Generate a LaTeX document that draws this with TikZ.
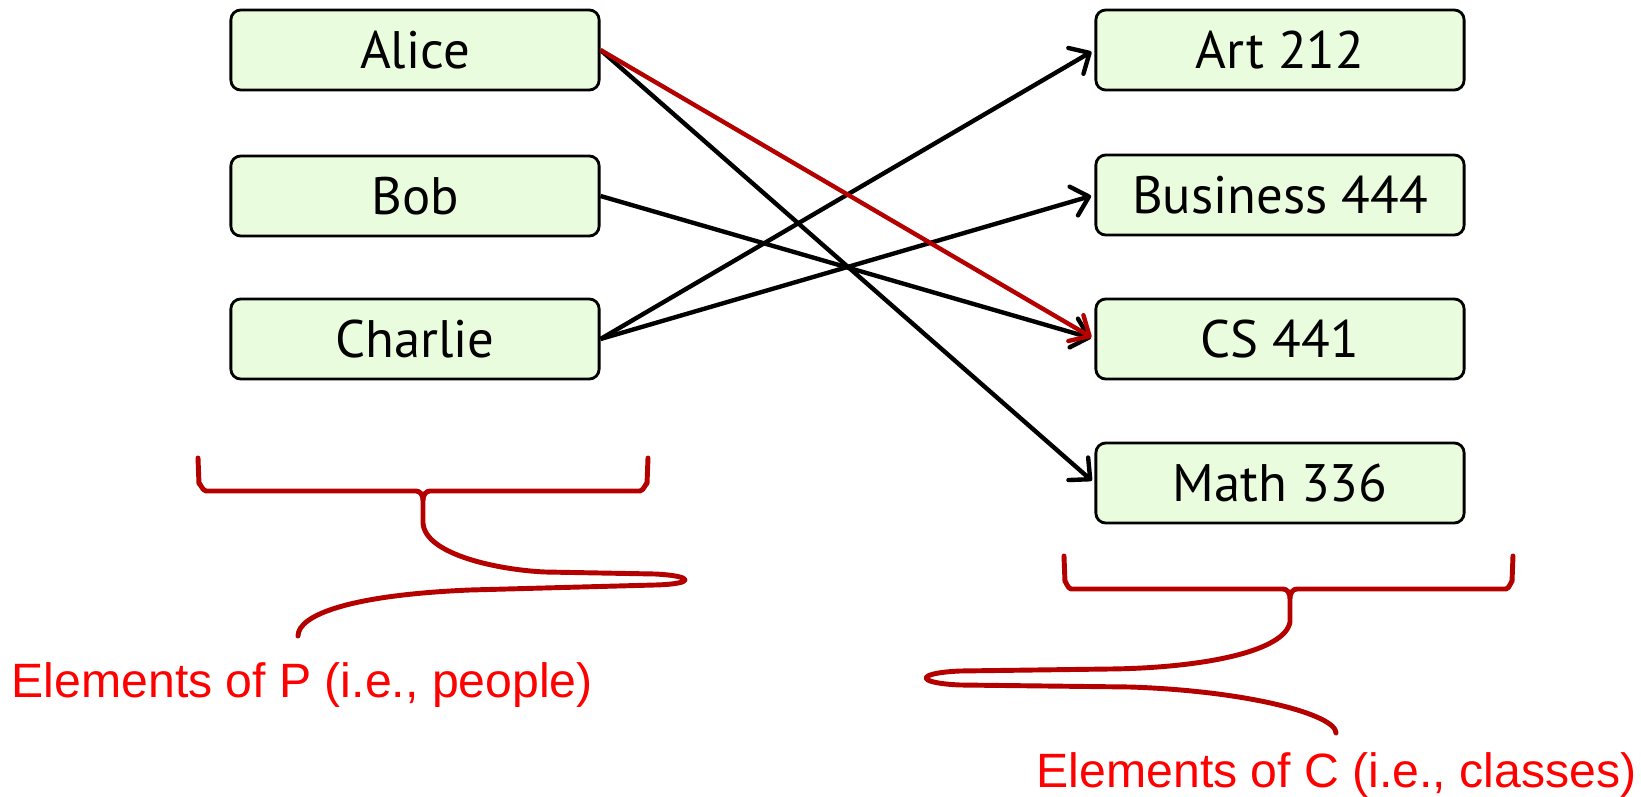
\documentclass[tikz,border=0pt]{standalone}
\usepackage{fontspec}
\setmainfont{PT Sans}
\newfontfamily\notefont{Liberation Sans}
\usetikzlibrary{arrows.meta}
\definecolor{boxgreen}{HTML}{EAFCDE}
\definecolor{bracered}{HTML}{B50000}
\tikzset{>={Straight Barb[length=4.5pt,width=8.5pt,round]}}
\tikzset{
    item/.style={draw, rounded corners=2.8pt, fill=boxgreen, line width=0.8pt,
        minimum width=3.68cm, minimum height=0.8cm, inner sep=0pt,
        font=\fontsize{15}{18}\selectfont},
    link/.style={->, line width=1.25pt, shorten >=1pt},
    brace/.style={bracered, line width=1.4pt, line cap=round, line join=round},
    setlabel/.style={red, anchor=west, inner sep=0pt,
        font=\notefont\fontsize{13.7}{16}\selectfont},
}

\begin{document}
\begin{tikzpicture}[x=0.01cm, y=-0.01cm]
		\useasboundingbox (0,0) rectangle (1641,797);
		% people
		\node[item] (alice) at (415,50) {Alice};
		\node[item] (bob) at (415,196) {Bob};
		\node[item] (charlie) at (415,339) {Charlie};
		% classes
		\node[item] (art) at (1280,50) {Art 212};
		\node[item] (bus) at (1280,195) {Business 444};
		\node[item] (cs) at (1280,339) {CS 441};
		\node[item] (math) at (1280,483) {Math 336};
		% enrolments
		\draw[link] (alice.east) -- (math.west);
		\draw[link] (bob.east) -- (cs.west);
		\draw[link] (charlie.east) -- (art.west);
		\draw[link] (charlie.east) -- (bus.west);
		\draw[link, bracered] (alice.east) -- (cs.west);
		% brace under the people
		\draw[brace] (198,458) -- (199,484) to[out=90,in=180] (206,491) -- (416,491)
			to[out=0,in=90] (423,500) to[out=90,in=180] (430,491) -- (640,491)
			to[out=0,in=90] (647,484) -- (648,458);
		\draw[brace] (423,500) -- (423,523) .. controls (425,555) and (500,570) .. (545,572)
			-- (655,574) .. controls (695,576) and (695,584) .. (655,585)
			-- (470,590) .. controls (350,595) and (298,615) .. (298,636);
		\node[setlabel] (plabel) at (11,685) {Elements of P (i.e., people)};
		% brace under the classes
		\draw[brace] (1064,556) -- (1065,582) to[out=90,in=180] (1071,589) -- (1283,589)
			to[out=0,in=90] (1290,598) to[out=90,in=180] (1297,589) -- (1506,589)
			to[out=0,in=90] (1512,582) -- (1513,556);
		\draw[brace] (1290,598) -- (1290,622) .. controls (1285,652) and (1200,668) .. (1110,669)
			-- (960,671) .. controls (915,673) and (915,683) .. (960,685)
			-- (1130,687) .. controls (1250,691) and (1336,715) .. (1336,733);
		\node[setlabel] (clabel) at (1036,775) {Elements of C (i.e., classes)};
	\end{tikzpicture}
\end{document}
